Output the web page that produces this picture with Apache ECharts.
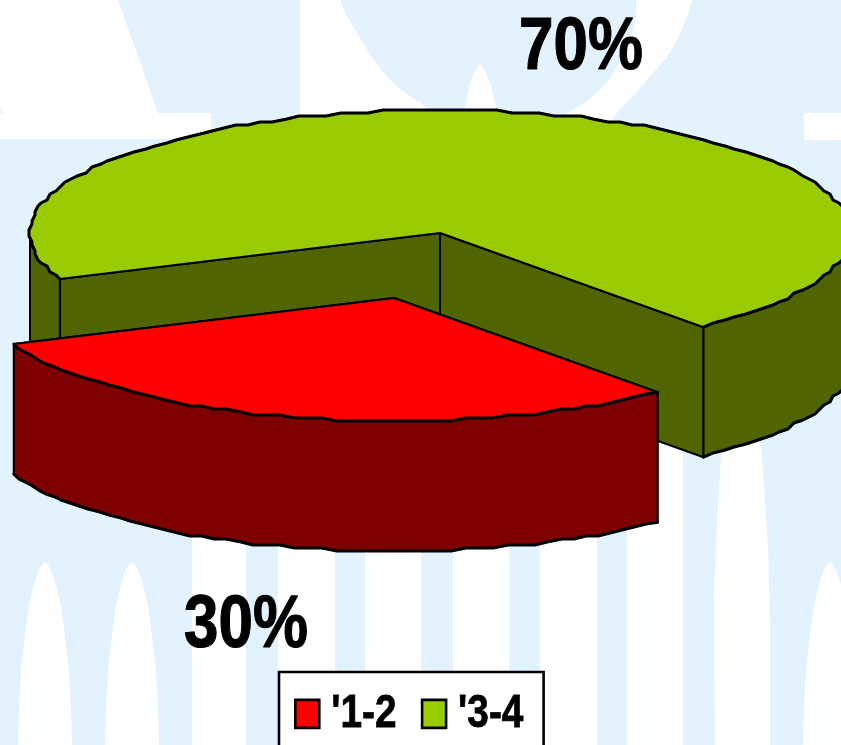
<!DOCTYPE html>
<html>
<head>
<meta charset="utf-8">
<style>html,body{margin:0;padding:0;background:#fff;overflow:hidden}#c{width:841px;height:745px}</style>
<script src="https://cdn.jsdelivr.net/npm/echarts@6/dist/echarts.min.js"></script>
</head>
<body>
<div id="c"></div>
<script>
var categories = ["'1-2", "'3-4"];
var values = [30, 70];
var topColors = ['#ff0000', '#99cc00'];
var wallColors = ['#7f0000', '#4f6600'];

var total = values.reduce(function (a, b) { return a + b; }, 0);
var START_DEG = 50, RX = 410, RY = 123, DEPTH = 130, SNAP = 3;
var CENTRES = [[394, 298], [440, 233]];
var LABEL_AT = [[246, 626], [581, 48]];
var FONT = '"Liberation Sans",Arial,sans-serif';
var NARROW = 0.825;
var PALE = '#e3f2ff';

function snap(v) { return Math.round(v / SNAP) * SNAP; }
function pt(c, deg, dz) {
  var a = deg * Math.PI / 180;
  return [c[0] + RX * Math.cos(a), c[1] + RY * Math.sin(a) + (dz || 0)];
}
// rim is stepped like the low-resolution original: points fall on a coarse grid
function rim(c, a0, a1, dz) {
  var out = [pt(c, a0, dz)], step = 2;
  for (var a = a0 + step; a < a1 - step / 2; a += step) {
    var p = pt(c, a, 0);
    out.push([c[0] + snap(p[0] - c[0]), c[1] + snap(p[1] - c[1]) + (dz || 0)]);
  }
  out.push(pt(c, a1, dz));
  return out;
}
function poly(points, fill, z) {
  return {
    type: 'polygon', z2: z,
    shape: { points: points },
    style: { fill: fill, stroke: '#000', lineWidth: 2, lineJoin: 'round' }
  };
}
function edge(points, z) {
  return {
    type: 'polyline', z2: z,
    shape: { points: points },
    style: { fill: null, stroke: '#000', lineWidth: 3, lineJoin: 'round', lineCap: 'round' }
  };
}
function renderSlice(index) {
  return function (params, api) {
    var v = api.value(0), before = 0;
    for (var i = 0; i < index; i++) before += values[i];
    var a0 = START_DEG + before / total * 360;
    var a1 = a0 + v / total * 360;
    var c = CENTRES[index], kids = [];
    var top = topColors[index], wall = wallColors[index];
    var p0 = pt(c, a0), p1 = pt(c, a1);
    // cut faces
    kids.push(poly([c, p0, pt(c, a0, DEPTH), [c[0], c[1] + DEPTH]], wall, 1));
    kids.push(poly([c, p1, pt(c, a1, DEPTH), [c[0], c[1] + DEPTH]], wall, 1));
    // outer wall, front half only
    [[0, 180], [360, 540]].forEach(function (r) {
      var s = Math.max(a0, r[0]), e = Math.min(a1, r[1]);
      if (e > s) {
        var lower = rim(c, s, e, DEPTH);
        kids.push(poly(rim(c, s, e, 0).concat(lower.slice().reverse()), wall, 2));
        kids.push(edge(lower, 2));
      }
    });
    // top face
    var upper = rim(c, a0, a1, 0);
    kids.push(poly([c].concat(upper), top, 3));
    kids.push(edge(upper, 4));
    // percentage label
    kids.push({
      type: 'text', z2: 5,
      x: LABEL_AT[index][0], y: LABEL_AT[index][1],
      scaleX: NARROW,
      style: {
        text: Math.round(v / total * 100) + '%',
        x: 0, y: 0,
        fill: '#000', stroke: '#000', lineWidth: 1.2,
        font: 'bold 75px ' + FONT,
        align: 'center', verticalAlign: 'middle'
      }
    });
    return { type: 'group', children: kids };
  };
}

var chart = echarts.init(document.getElementById('c'), null, { renderer: 'canvas' });

function shape(points, smooth) {
  return { type: 'polygon', z: 0, silent: true, shape: { points: points, smooth: smooth || 0 }, style: { fill: '#fff' } };
}
function band(x, y, w) {
  return { type: 'rect', z: 0, silent: true, shape: { x: x, y: y, width: w, height: 745 - y }, style: { fill: '#fff' } };
}
function spike(cx) {
  return shape([[cx - 27, 790], [cx - 27, 745], [cx - 24, 673], [cx - 16, 607], [cx - 8, 575], [cx, 562],
                [cx + 8, 575], [cx + 16, 607], [cx + 24, 673], [cx + 27, 745], [cx + 27, 790]], 0.25);
}
var watermark = [
  { type: 'rect', z: 0, silent: true, shape: { x: 0, y: 0, width: 841, height: 745 }, style: { fill: PALE } },
  shape([[0, 0], [118, 0], [158, 113], [211, 113], [211, 139], [0, 139]]),
  { type: 'polygon', z: 0, silent: true, shape: { points: [[0, 108], [3, 113], [0, 113]] }, style: { fill: PALE } },
  shape([[300, 0], [340, 0], [347, 16], [357, 33], [371, 56], [387, 77], [403, 92], [420, 103], [430, 110], [430, 130], [300, 130]]),
  shape([[460, 130], [465, 108], [471, 80], [480, 65], [489, 80], [496, 108], [500, 130]], 0.25),
  shape([[637, 0], [636, 15], [633, 30], [626, 50], [617, 67], [608, 81], [597, 93], [583, 104], [567, 113], [560, 130], [605, 130], [617, 113], [632, 97], [647, 80], [667, 57], [676, 42], [683, 27], [689, 12], [692, 0]]),
  { type: 'rect', z: 0, silent: true, shape: { x: 804, y: 113, width: 37, height: 27 }, style: { fill: '#fff' } },
  spike(45), spike(132),
  band(192, 480, 54), band(278, 480, 57), band(365, 480, 56), band(453, 480, 56),
  band(540, 440, 57), band(627, 440, 56),
  shape([[722, 443], [717, 520], [714, 590], [715, 760], [770, 760], [770, 620], [768, 547], [761, 443]]),
  spike(830)
];

chart.setOption({
  animation: false,
  backgroundColor: '#fff',
  graphic: { elements: watermark },
  legend: {
    data: categories,
    orient: 'horizontal',
    left: 279, top: 672,
    padding: [18, 6, 40, 15],
    backgroundColor: '#fff',
    borderColor: '#000', borderWidth: 2.6,
    itemWidth: 24, itemHeight: 28, itemGap: 10,
    icon: 'rect',
    selectedMode: false,
    itemStyle: { borderColor: '#000', borderWidth: 2.6 },
    textStyle: { color: '#000', fontSize: 47, fontWeight: 'bold', fontFamily: FONT, padding: [0, 0, 0, 7], textBorderColor: '#000', textBorderWidth: 0.8 }
  },
  series: categories.map(function (name, i) {
    return {
      type: 'custom',
      name: name,
      coordinateSystem: 'none',
      z: i === 0 ? 4 : 3,
      clip: false,
      silent: true,
      itemStyle: { color: topColors[i] },
      renderItem: renderSlice(i),
      data: [[values[i]]]
    };
  })
});

// The reference's legend type is condensed; ECharts has no text-width option,
// so the legend's own text elements are narrowed in place.
chart.getZr().storage.getDisplayList(true).forEach(function (el) {
  if (el.style && categories.indexOf(el.style.text) >= 0) {
    el.originX = el.style.x;
    el.scaleX = NARROW;
    el.markRedraw();
  }
});
chart.getZr().refresh();
</script>
</body>
</html>
